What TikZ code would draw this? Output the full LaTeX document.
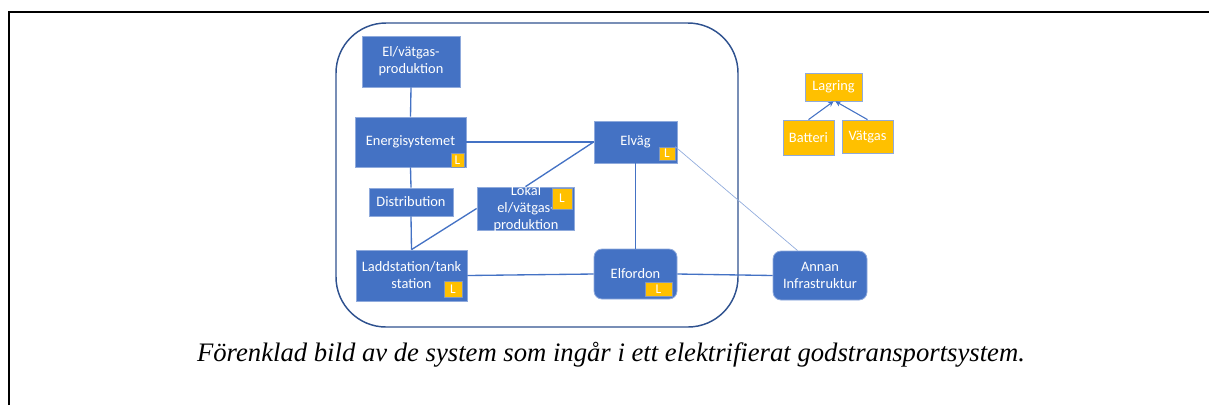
\documentclass[tikz,border=0pt]{standalone}
\usepackage{fontspec}
\setmainfont{Liberation Serif}
\newfontfamily\carlito{Carlito}
\usetikzlibrary{arrows.meta}
\definecolor{myblue}{HTML}{4472C4}
\definecolor{edgeblue}{HTML}{8FAADC}
\definecolor{darkblue}{HTML}{2F528F}
\definecolor{myyellow}{HTML}{FFC000}
\newcommand\pxu{0.75pt}
\tikzset{
  bluebox/.style={draw=edgeblue, line width=0.6pt, fill=myblue, text=white, font=\carlito\fontsize{10.8}{12.75}\selectfont, inner sep=0pt, align=center},
  ybox/.style={draw=edgeblue, line width=0.6pt, fill=myyellow, text=white, font=\carlito\fontsize{10.8}{12.75}\selectfont, inner sep=0pt, align=center},
  lbadge/.style={draw=darkblue!60, line width=0.4pt, fill=myyellow, text=white, font=\carlito\fontsize{10}{10}\selectfont, inner sep=0pt},
  conn/.style={draw=myblue, line width=1pt},
  thinconn/.style={draw=edgeblue, line width=0.5pt},
}
\begin{document}
\begin{tikzpicture}[x=0.75pt,y=-0.75pt]
\useasboundingbox (0,0) rectangle (1209,405);
% frame
\draw[black, line width=1.5pt] (9,405) -- (9,12) -- (1209,12);
% outer rounded container
\draw[darkblue, line width=1.1pt, rounded corners=37.5pt] (336,23) rectangle (738,327);

% nodes
\node[bluebox, minimum width=98*\pxu, minimum height=51*\pxu] (prod) at (411,61.5) {El/vätgas-\\produktion};
\node[bluebox, minimum width=111*\pxu, minimum height=50*\pxu] (energi) at (410.5,142) {Energisystemet};
\node[bluebox, minimum width=84*\pxu, minimum height=28*\pxu] (dist) at (411,202) {Distribution};
\node[bluebox, minimum width=97*\pxu, minimum height=43*\pxu] (lokal) at (525.5,208.5) {};
\node[text=white, font=\carlito\fontsize{10.8}{12.75}\selectfont, align=center, inner sep=0pt] (lokaltext) at (526,209) {Lokal\\el/vätgas-\\produktion};
\node[bluebox, minimum width=111*\pxu, minimum height=51*\pxu] (ladd) at (411.5,275.5) {Laddstation/tank\\station};
\node[bluebox, minimum width=83*\pxu, minimum height=42*\pxu] (elvag) at (635.5,142) {Elväg};
\node[bluebox, rounded corners=6pt, minimum width=83*\pxu, minimum height=50*\pxu] (elford) at (635.5,274) {Elfordon};
\node[bluebox, rounded corners=6pt, minimum width=94*\pxu, minimum height=49*\pxu] (annan) at (820,275.5) {Annan\\Infrastruktur};

\node[ybox, minimum width=57*\pxu, minimum height=28*\pxu] (lagring) at (833.5,87) {Lagring};
\node[ybox, minimum width=51*\pxu, minimum height=35*\pxu] (batteri) at (808.5,137.5) {Batteri};
\node[ybox, minimum width=51*\pxu, minimum height=33*\pxu] (vatgas) at (867.5,136.5) {Vätgas};

% L badges
\node[lbadge, minimum width=13*\pxu, minimum height=14*\pxu] (Lenergi) at (457.5,160) {L};
\node[lbadge, minimum width=20*\pxu, minimum height=21*\pxu] (Llokal) at (562,198.5) {L};
\node[lbadge, minimum width=18*\pxu, minimum height=16*\pxu] (Lladd) at (453,289) {L};
\node[lbadge, minimum width=16*\pxu, minimum height=13*\pxu] (Lelvag) at (667,153.5) {L};
\node[lbadge, minimum width=27*\pxu, minimum height=14*\pxu] (Lelford) at (658.5,289) {L};

% connectors
\draw[conn] (prod.south) -- (energi.north);
\draw[conn] (energi.east) -- (elvag.west);
\draw[conn] (energi.south) -- (dist.north);
\draw[conn] (dist.south) -- (ladd.north);
\draw[conn] (ladd.north) -- (lokal.west);
\draw[conn] (lokal.north) -- (elvag.west);
\draw[conn] (elvag.south) -- (elford.north);
\draw[conn] (ladd.east) -- (elford.west);
\draw[conn] (elford.east) -- (annan.west);
\draw[thinconn] (Lelvag.north east) -- ([xshift=25*\pxu]annan.north west);
\draw[conn, line width=0.8pt, -{Stealth[length=4pt,width=4pt]}] (batteri.north) -- (lagring.south);
\draw[conn, line width=0.8pt, -{Stealth[length=4pt,width=4pt]}] (vatgas.north) -- ([xshift=2*\pxu]lagring.south);

% caption
\node[font=\itshape\fontsize{20}{22}\selectfont, inner sep=0pt] (caption) at (611,355) {Förenklad bild av de system som ingår i ett elektrifierat godstransportsystem.};
\end{tikzpicture}
\end{document}
